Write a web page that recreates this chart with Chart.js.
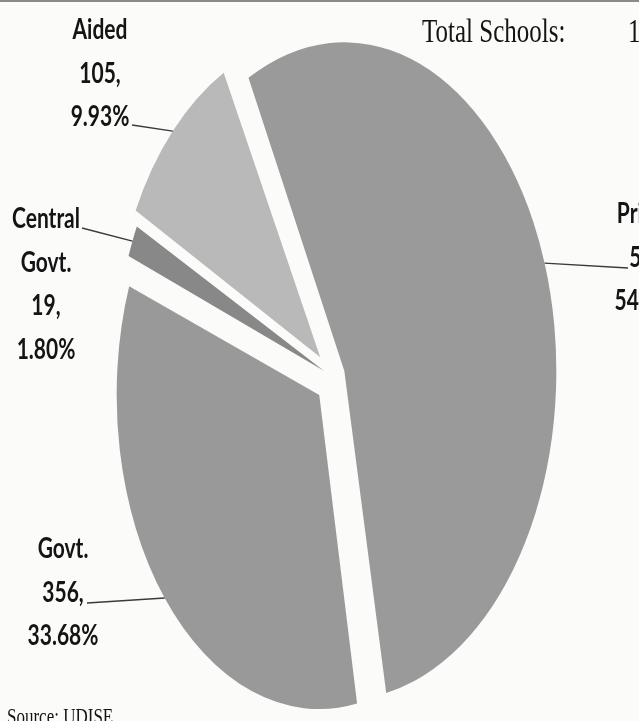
<!DOCTYPE html>
<html>
<head>
<meta charset="utf-8">
<title>Total Schools</title>
<script src="https://cdn.jsdelivr.net/npm/chart.js@4"></script>
<style>
    html, body {
        margin: 0;
        padding: 0;
        background: #fbfbfa;
    }
    #wrap {
        position: relative;
        width: 639px;
        height: 721px;
        overflow: hidden;
        border-top: 2px solid #8a8a8a;
        box-sizing: border-box;
    }
    #chart1 {
        position: absolute;
        left: 0;
        top: -2px;
    }
</style>
</head>
<body>
<div id="wrap">
    <canvas id="chart1" width="639" height="721"></canvas>
</div>
<script>
const categories = ['Private', 'Govt.', 'Central Govt.', 'Aided'];
const schools = [577, 356, 19, 105];
const sliceColors = ['#9a9a9a', '#999999', '#888888', '#b9b9b9'];
const sliceOffsets = [48, 72, 40, 72];
const totalLabel = 'Total Schools:';
const sourceLabel = 'Source: UDISE';

const total = schools.reduce((a, b) => a + b, 0);

// where each label block sits (center x, first baseline, leader line start)
const labelLayout = [
    { x: 650, y: 223, lineX: 628, lineY: 268 },
    { x: 63, y: 558, lineX: 87, lineY: 603 },
    { x: 46, y: 228, lineX: 82, lineY: 228 },
    { x: 100, y: 39, lineX: 132, lineY: 125 }
];

const PIE_STRETCH = 1.55;
const TEXT_STRETCH = 1.35;
const LINE_GAP = 43.5;

function labelLines(i) {
    const pct = (schools[i] / total * 100).toFixed(2) + '%';
    return categories[i].split(' ').concat([schools[i] + ',', pct]);
}

function stretchedText(ctx, text, x, y, stretch) {
    ctx.save();
    ctx.translate(x, y);
    ctx.scale(1, stretch);
    ctx.fillText(text, 0, 0);
    ctx.restore();
}

function edgePoint(chart, arc, t) {
    const area = chart.chartArea;
    const cy = (area.top + area.bottom) / 2;
    const o = (arc.options.offset || 0) / 4;
    const mid = (arc.startAngle + arc.endAngle) / 2;
    const fix = 1 - Math.sin(Math.min(Math.PI, arc.circumference));
    const r = arc.outerRadius + o * fix;
    const a = arc.startAngle + t * (arc.endAngle - arc.startAngle);
    const px = arc.x + Math.cos(mid) * o + Math.cos(a) * r;
    const py = arc.y + Math.sin(mid) * o + Math.sin(a) * r;
    return { x: px, y: cy + (py - cy) * PIE_STRETCH };
}

//squash the round pie into the tall ellipse of the scan
const ellipsePlugin = {
    id: 'ellipse',
    beforeDatasetsDraw(chart) {
        const area = chart.chartArea;
        const cx = (area.left + area.right) / 2;
        const cy = (area.top + area.bottom) / 2;
        chart.ctx.save();
        chart.ctx.translate(cx, cy);
        chart.ctx.scale(1, PIE_STRETCH);
        chart.ctx.translate(-cx, -cy);
    },
    afterDatasetsDraw(chart) {
        chart.ctx.restore();
    }
};

const labelPlugin = {
    id: 'sliceLabels',
    afterDraw(chart) {
        const ctx = chart.ctx;
        const arcs = chart.getDatasetMeta(0).data;

        ctx.save();
        ctx.strokeStyle = '#3a3a3a';
        ctx.lineWidth = 1.4;
        arcs.forEach((arc, i) => {
            const p = edgePoint(chart, arc, 0.5);
            const lay = labelLayout[i];
            ctx.beginPath();
            ctx.moveTo(lay.lineX, lay.lineY);
            ctx.lineTo(p.x, p.y);
            ctx.stroke();
        });

        ctx.fillStyle = '#141414';
        ctx.font = 'bold 21px Lato';
        ctx.textAlign = 'center';
        ctx.textBaseline = 'alphabetic';
        arcs.forEach((arc, i) => {
            const lay = labelLayout[i];
            labelLines(i).forEach((line, k) => {
                stretchedText(ctx, line, lay.x, lay.y + k * LINE_GAP, TEXT_STRETCH);
            });
        });

        ctx.textAlign = 'left';
        ctx.font = '25px "Liberation Serif"';
        stretchedText(ctx, totalLabel, 422, 42, 1.38);
        stretchedText(ctx, String(total), 628, 42, 1.38);

        ctx.font = '17px "Liberation Serif"';
        stretchedText(ctx, sourceLabel, 7, 724, 1.38);
        ctx.restore();
    }
};

const ctx = document.getElementById('chart1');
new Chart(ctx, {
    type: 'pie',
    data: {
        labels: categories,
        datasets: [{
            data: schools,
            backgroundColor: sliceColors,
            offset: sliceOffsets,
            hoverOffset: 0,
            borderWidth: 0,
            clip: false
        }]
    },
    options: {
        responsive: false,
        animation: false,
        rotation: -27.4,
        layout: {
            padding: { left: 97, right: 70, top: 141, bottom: 108 }
        },
        plugins: {
            legend: { display: false },
            tooltip: { enabled: false }
        }
    },
    plugins: [ellipsePlugin, labelPlugin]
});
</script>
</body>
</html>
